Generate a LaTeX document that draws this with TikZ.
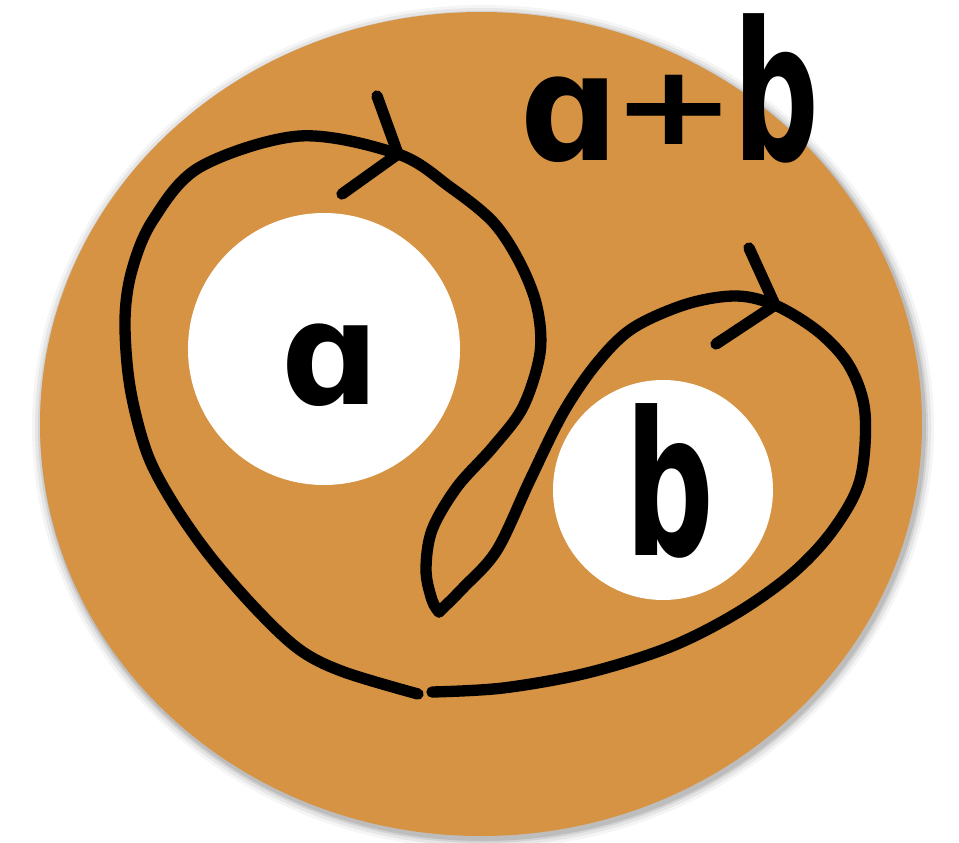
\documentclass[tikz,border=0pt]{standalone}
\usepackage{fontspec}
\newfontfamily\hand{DejaVu Sans Bold}
\begin{document}
\begin{tikzpicture}[x=0.75pt,y=-0.75pt,
  stroke/.style={line width=8.5pt,line cap=round,line join=round,black},
  hole/.style={circle,fill=white,inner sep=0pt},
  lbl/.style={font=\hand,text=black,inner sep=0pt}]
\useasboundingbox (0,0) rectangle (959,842);
\fill[white] (0,0) rectangle (959,842);
% shadow
\foreach \d/\o in {10/0.04,7/0.06,4/0.08,2/0.10}
  \fill[black,opacity=\o] (483,427) ellipse ({441+\d} and {412+\d});
\fill[fill={rgb,255:red,213;green,147;blue,67}] (481,424) ellipse (441 and 412);
\node[hole,minimum size=272*0.75pt] (ha) at (324,349) {};
\node[hole,minimum size=220*0.75pt] (hb) at (663,490) {};
\node[lbl,font=\hand\fontsize{108}{108}\selectfont,xscale=0.95] (la) at (330,365) {ɑ};
\node[lbl,font=\hand\fontsize{150}{150}\selectfont,xscale=0.62] (lb) at (670,481) {b};
\node[lbl,anchor=base west] (tab) at (520,160)
  {\fontsize{112}{112}\selectfont\scalebox{0.92}[1]{ɑ}\kern-5pt\raisebox{12pt}{\scalebox{1}[0.74]{+}}\kern-3pt\fontsize{145}{145}\selectfont\scalebox{0.62}[1]{b}};
% curve
\draw[stroke] plot[smooth,tension=0.55] coordinates {
  (418,694) (344,672) (300,650) (257,610) (210,556) (173,503) (147,453)
  (130,387) (125,320) (132,270) (153,220) (200,167) (300,136) (398,154)
  (450,187) (493,222) (520,263) (537,307) (540,353) (523,407) (493,447)
  (457,487) (432,530) (426,570) (432,600) (439,612)};
\draw[stroke] plot[smooth,tension=0.55] coordinates {
  (439,612) (463,588) (497,550) (530,480) (563,413) (597,363) (633,328)
  (687,304) (737,296) (777,306) (820,333) (850,367) (865,413) (860,480)
  (833,530) (793,573) (737,613) (670,647) (587,673) (503,688) (432,692)};
% arrows
\coordinate (a1) at (377,96); \coordinate (a2) at (398,154); \coordinate (a3) at (342,194);
\draw[stroke] (a1) -- (a2) -- (a3);
\coordinate (b1) at (749,248); \coordinate (b2) at (775,305); \coordinate (b3) at (716,344);
\draw[stroke] (b1) -- (b2) -- (b3);
\end{tikzpicture}
\end{document}
